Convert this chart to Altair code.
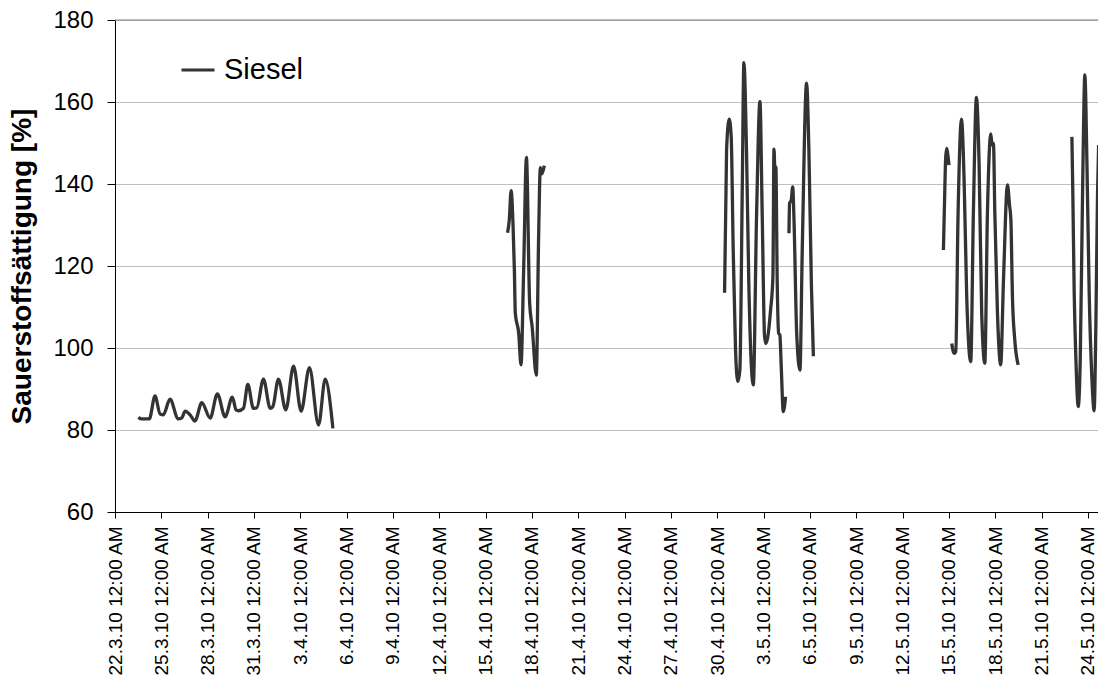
import altair as alt
import pandas as pd

# Time axis: days since 22.3.2010 00:00, oxygen saturation in %
START = pd.Timestamp("2010-03-22")
END_DAYS = 63.65

# Measurement runs (separate deployments, drawn as separate line pieces)
days_1 = [1.51, 1.73, 2.22, 2.59, 2.92, 3.13, 3.56, 4.10, 4.32, 4.54, 4.86, 5.18,
          5.62, 6.16, 6.63, 7.13, 7.60, 7.84, 7.99, 8.32, 8.60, 8.96, 9.18, 9.61,
          10.05, 10.22, 10.58, 11.06, 11.56, 12.05, 12.59, 13.18, 13.61, 14.11]
sat_1 = [83.1, 82.7, 82.7, 88.3, 83.9, 83.7, 87.5, 82.7, 82.9, 84.6, 83.7, 82.2,
         86.7, 82.9, 88.8, 83.2, 88.0, 84.9, 84.7, 85.3, 91.1, 85.3, 85.4, 92.4,
         85.3, 85.7, 92.4, 84.9, 95.6, 84.6, 95.2, 81.2, 92.4, 80.4]

days_2 = [25.42, 25.53, 25.65, 25.77, 25.86, 25.92, 26.14, 26.29, 26.46, 26.64,
          26.85, 27.01, 27.28, 27.43, 27.54, 27.64, 27.80]
sat_2 = [128.1, 131.2, 138.4, 130.4, 119.0, 108.5, 103.6, 95.9, 119.0, 146.5,
         110.9, 105.2, 93.4, 127.2, 144.0, 142.5, 144.5]

days_3 = [39.47, 39.60, 39.77, 39.90, 40.03, 40.18, 40.33, 40.46, 40.62, 40.72,
          40.89, 41.04, 41.33, 41.54, 41.76, 41.91, 42.06, 42.15, 42.45, 42.60,
          42.67, 42.73, 42.79, 42.88, 42.97, 43.05, 43.14, 43.27, 43.42]
sat_3 = [113.5, 148.3, 155.8, 151.5, 123.9, 99.5, 91.8, 94.6, 140.2, 169.6,
         148.3, 115.8, 91.0, 132.0, 160.1, 132.0, 102.8, 101.1, 109.3, 117.4,
         148.5, 143.4, 144.2, 115.8, 103.6, 103.2, 95.4, 84.5, 88.1]

days_4 = [43.64, 43.68, 43.79, 43.88, 43.96, 44.14, 44.35, 44.50, 44.78, 44.93,
          45.09, 45.22]
sat_4 = [128.0, 135.3, 136.1, 139.3, 132.0, 103.6, 94.6, 123.9, 164.6, 148.3,
         115.8, 98.0]

days_5 = [53.64, 53.73, 53.79, 53.86, 53.94, 54.00]
sat_5 = [123.9, 138.5, 146.7, 148.7, 146.7, 144.6]

days_6 = [54.18, 54.33, 54.44, 54.59, 54.81, 54.98, 55.15, 55.41, 55.58, 55.78,
          55.95, 56.12, 56.32, 56.49, 56.71, 56.79, 56.88, 56.97, 57.14, 57.35,
          57.53, 57.79, 57.92, 58.01, 58.11, 58.26, 58.48]
sat_6 = [101.1, 98.7, 99.1, 132.8, 155.8, 141.0, 112.5, 96.7, 132.8, 161.1,
         145.0, 108.5, 96.3, 132.8, 152.2, 149.5, 149.9, 132.8, 108.5, 95.9,
         116.6, 139.8, 134.9, 131.2, 112.5, 102.0, 95.9]

days_7 = [61.96, 62.02, 62.11, 62.22, 62.37, 62.50, 62.65, 62.80, 62.93, 63.08,
          63.25, 63.40, 63.51, 63.62, 63.69]
sat_7 = [151.5, 137.7, 113.3, 97.1, 85.7, 97.1, 137.7, 166.6, 145.9, 113.3,
         93.0, 84.7, 105.2, 137.7, 149.5]

y_ticks = [60, 80, 100, 120, 140, 160, 180]
tick_every_days = 3
n_ticks = 22

FONT = "Liberation Sans"


def to_ms(days):
    return int((START + pd.Timedelta(days=days)).value // 10**6)


runs = [(days_1, sat_1), (days_2, sat_2), (days_3, sat_3), (days_4, sat_4),
        (days_5, sat_5), (days_6, sat_6), (days_7, sat_7)]
rows = []
for run_id, (ds, vs) in enumerate(runs):
    for d, v in zip(ds, vs):
        rows.append({"t": to_ms(d), "sat": v, "run": run_id, "series": "Siesel"})
df = pd.DataFrame(rows)

x_values = [to_ms(tick_every_days * k) for k in range(n_ticks)]
x_scale = alt.Scale(type="utc", domain=[to_ms(0), to_ms(END_DAYS)], nice=False)
y_scale = alt.Scale(domain=[60, 180], nice=False, zero=False)

x_axis = alt.Axis(
    values=x_values,
    labelExpr="utcFormat(datum.value, '%-d.%-m.%y %I:%M %p')",
    labelAngle=270,
    labelFontSize=19,
    labelColor="black",
    labelPadding=8,
    labelOverlap=False,
    labelFlush=False,
    tickSize=6,
    tickColor="black",
    domainColor="black",
    grid=False,
    title=None,
)

y_axis = alt.Axis(
    values=y_ticks,
    title="Sauerstoffsättigung [%]",
    titleFontSize=28,
    titleFontWeight="bold",
    titleColor="black",
    titleAngle=270,
    titleX=-93,
    titleY=246,
    titleAlign="center",
    titleBaseline="middle",
    labelFontSize=24,
    labelColor="black",
    labelPadding=14,
    tickSize=8,
    tickColor="black",
    domainColor="black",
    gridColor="#c0c0c0",
)

top_border = alt.Chart(pd.DataFrame({"y": [180]})).mark_rule(
    color="#808080", strokeWidth=1
).encode(y=alt.Y("y:Q", scale=y_scale))

line = alt.Chart(df).mark_line(
    strokeWidth=3.3, interpolate="monotone", clip=True
).encode(
    x=alt.X("t:T", scale=x_scale, axis=x_axis),
    y=alt.Y("sat:Q", scale=y_scale, axis=y_axis),
    detail=alt.Detail("run:N"),
    color=alt.Color(
        "series:N",
        scale=alt.Scale(range=["#333333"]),
        legend=alt.Legend(
            title=None,
            orient="none",
            legendX=65,
            legendY=32,
            padding=0,
            symbolType="stroke",
            symbolSize=1089,
            symbolStrokeWidth=3,
            labelFontSize=29,
            labelColor="black",
            labelOffset=8,
        ),
    ),
)

chart = (
    alt.layer(top_border, line)
    .properties(
        width=983,
        height=492,
        autosize=alt.AutoSizeParams(type="none"),
        padding={"left": 115, "top": 20, "right": 0, "bottom": 169},
    )
    .configure(font=FONT, background="white")
    .configure_view(stroke=None)
)

chart.save("out.html", embed_options={"renderer": "svg", "actions": False})
